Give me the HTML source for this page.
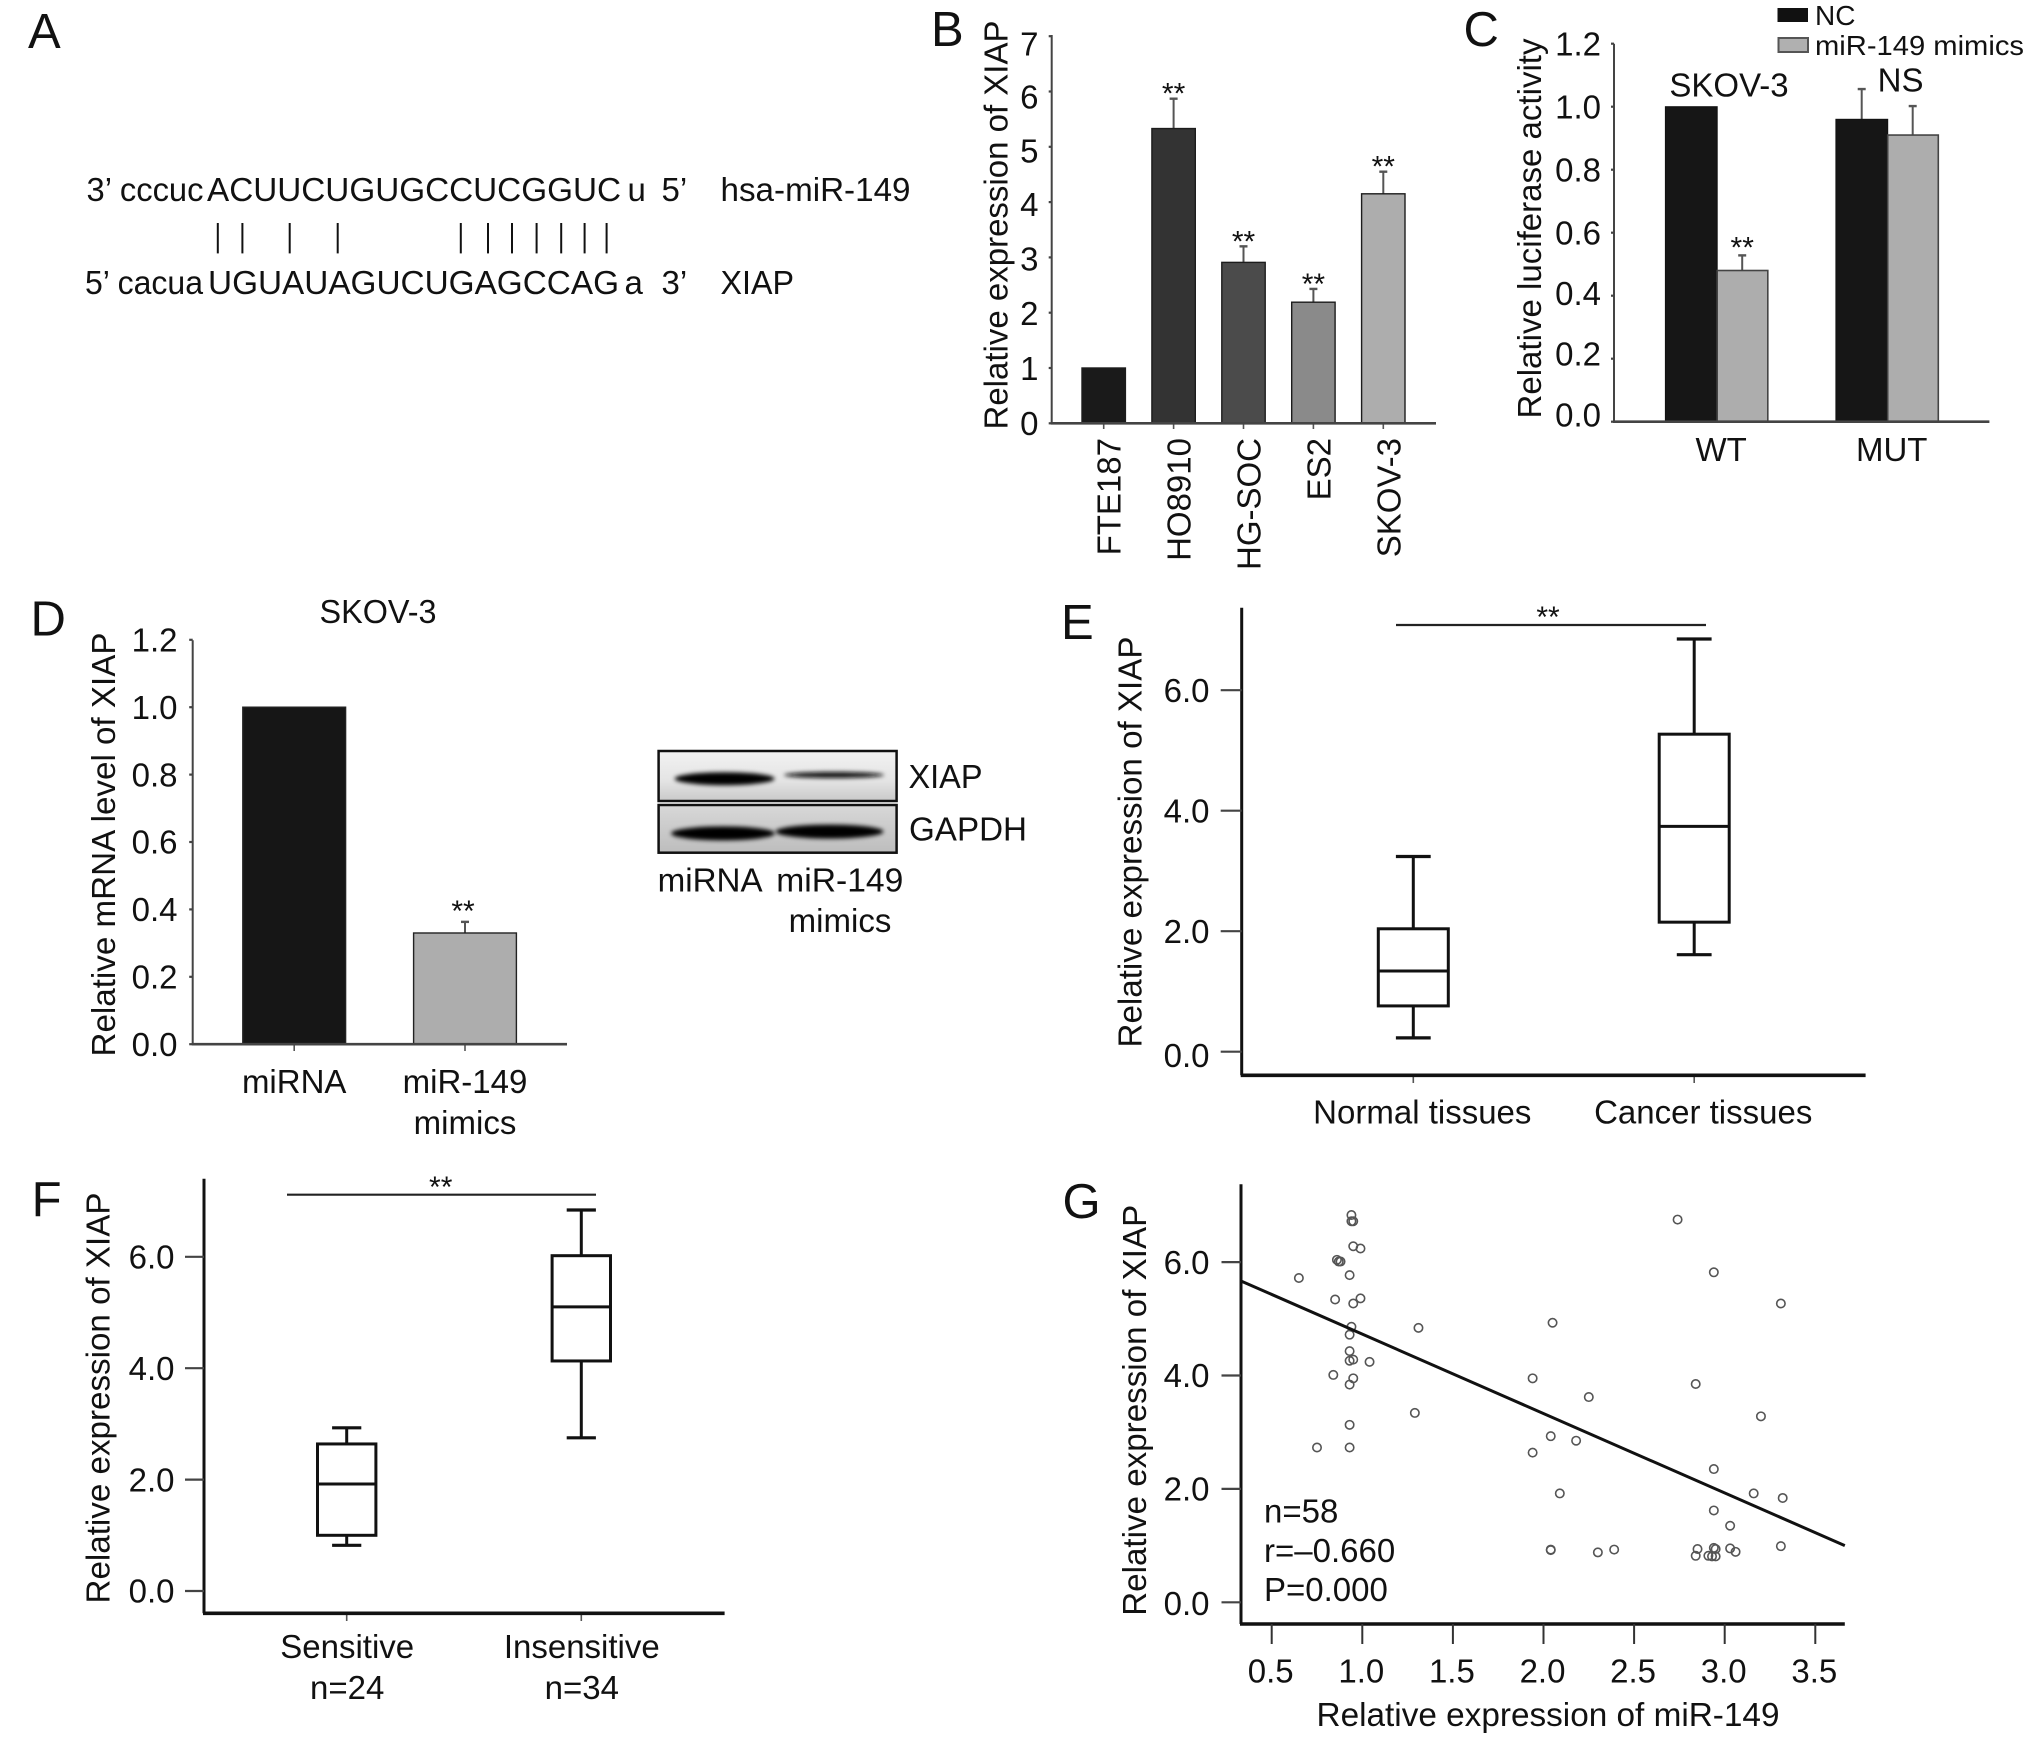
<!DOCTYPE html>
<html lang="en">
<head>
<meta charset="utf-8">
<title>miR-149 and XIAP multi-panel figure</title>
<style>
html,body{margin:0;padding:0;background:#fff;}
svg{display:block;}
text{font-family:"Liberation Sans",sans-serif;font-size:33px;fill:#111;}
.letter{font-size:49px;}
</style>
</head>
<body>
<svg id="fig" xmlns="http://www.w3.org/2000/svg" width="2032" height="1745" viewBox="0 0 2032 1745">
<defs>
<filter id="blot-blur" x="-20%" y="-80%" width="140%" height="260%"><feGaussianBlur stdDeviation="2.2"></feGaussianBlur></filter>
<linearGradient id="lane-light" x1="0" y1="0" x2="0" y2="1"><stop offset="0" stop-color="#f2f2f2"></stop><stop offset="0.6" stop-color="#e4e4e4"></stop><stop offset="1" stop-color="#c9c9c9"></stop></linearGradient>
<linearGradient id="lane-dark" x1="0" y1="0" x2="0" y2="1"><stop offset="0" stop-color="#d8d8d8"></stop><stop offset="1" stop-color="#bdbdbd"></stop></linearGradient>
</defs>
<rect x="0" y="0" width="2032" height="1745" fill="#fff"></rect>

<!-- Panel letters -->
<text class="letter" x="28" y="48">A</text>
<text class="letter" x="931" y="46">B</text>
<text class="letter" x="1463.5" y="46">C</text>
<text class="letter" x="30.5" y="635.5">D</text>
<text class="letter" x="1061" y="639">E</text>
<text class="letter" x="31.6" y="1216">F</text>
<text class="letter" x="1062.5" y="1218">G</text>

<!-- Panel A -->
<g id="panel-a">
<text x="86.5" y="201" textLength="117" lengthAdjust="spacingAndGlyphs">3’ cccuc</text>
<text x="207" y="201" textLength="414" lengthAdjust="spacingAndGlyphs">ACUUCUGUGCCUCGGUC</text>
<text x="627.5" y="201">u</text>
<text x="661.5" y="201">5’</text>
<text x="720.5" y="201" textLength="190" lengthAdjust="spacingAndGlyphs">hsa-miR-149</text>
<text x="85" y="294" textLength="118" lengthAdjust="spacingAndGlyphs">5’ cacua</text>
<text x="208" y="294" textLength="411" lengthAdjust="spacingAndGlyphs">UGUAUAGUCUGAGCCAG</text>
<text x="624.5" y="294">a</text>
<text x="661.5" y="294">3’</text>
<text x="720.5" y="294" textLength="73.5" lengthAdjust="spacingAndGlyphs">XIAP</text>
<g stroke="#111" stroke-width="2">
<line x1="217.8" y1="223" x2="217.8" y2="253.4"></line>
<line x1="242.4" y1="223" x2="242.4" y2="253.4"></line>
<line x1="289.7" y1="223" x2="289.7" y2="253.4"></line>
<line x1="337.7" y1="223" x2="337.7" y2="253.4"></line>
<line x1="460.8" y1="223" x2="460.8" y2="253.4"></line>
<line x1="488" y1="223" x2="488" y2="253.4"></line>
<line x1="512" y1="223" x2="512" y2="253.4"></line>
<line x1="536.6" y1="223" x2="536.6" y2="253.4"></line>
<line x1="561.2" y1="223" x2="561.2" y2="253.4"></line>
<line x1="584.6" y1="223" x2="584.6" y2="253.4"></line>
<line x1="606.6" y1="223" x2="606.6" y2="253.4"></line>
</g>
</g>

<!-- Panel B -->
<g id="panel-b">
<text transform="translate(1007.5,429.5) rotate(-90)" textLength="409" lengthAdjust="spacingAndGlyphs">Relative expression of XIAP</text>
</g>

<!-- Panel C -->
<g id="panel-c">
<text transform="translate(1541,418.5) rotate(-90)" textLength="380" lengthAdjust="spacingAndGlyphs">Relative luciferase activity</text>
<text x="1729" y="96.4" text-anchor="middle">SKOV-3</text>
<text x="1900.6" y="91.5" text-anchor="middle">NS</text>
<rect x="1777.5" y="8" width="30.5" height="14" fill="#111"></rect>
<text x="1815" y="25" style="font-size:28px">NC</text>
<rect x="1778.5" y="38" width="29.5" height="14" fill="#b0b0b0" stroke="#555" stroke-width="2"></rect>
<text x="1815" y="55" textLength="209" lengthAdjust="spacingAndGlyphs" style="font-size:28px">miR-149 mimics</text>
</g>

<!-- Panel D -->
<g id="panel-d">
<text x="378" y="623" text-anchor="middle" textLength="117" lengthAdjust="spacingAndGlyphs">SKOV-3</text>
<text transform="translate(115,1056.5) rotate(-90)" textLength="424" lengthAdjust="spacingAndGlyphs">Relative mRNA level of XIAP</text>
</g>

<!-- Western blot -->
<g id="blot">
<rect x="658.6" y="751" width="238" height="50" fill="url(#lane-light)" stroke="#111" stroke-width="2.5"></rect>
<rect x="658.6" y="805" width="238" height="47.7" fill="url(#lane-dark)" stroke="#111" stroke-width="2.5"></rect>
<ellipse cx="724.6" cy="778.7" rx="50" ry="6.5" fill="#050505" filter="url(#blot-blur)"></ellipse>
<ellipse cx="834" cy="775" rx="50" ry="3" fill="#111" filter="url(#blot-blur)"></ellipse>
<ellipse cx="723" cy="833.4" rx="52" ry="7" fill="#050505" filter="url(#blot-blur)"></ellipse>
<ellipse cx="829.5" cy="831.6" rx="54" ry="7" fill="#050505" filter="url(#blot-blur)"></ellipse>
<text x="908.5" y="788" textLength="74" lengthAdjust="spacingAndGlyphs">XIAP</text>
<text x="909" y="840.6" textLength="118" lengthAdjust="spacingAndGlyphs">GAPDH</text>
<text x="657.6" y="891.7" textLength="105" lengthAdjust="spacingAndGlyphs">miRNA</text>
<text x="776.3" y="891.7" textLength="127" lengthAdjust="spacingAndGlyphs">miR-149</text>
<text x="840" y="932" text-anchor="middle">mimics</text>
</g>

<!-- Panel E -->
<g id="panel-e">
<text transform="translate(1141.7,1047.5) rotate(-90)" textLength="411" lengthAdjust="spacingAndGlyphs">Relative expression of XIAP</text>
<line x1="1396" y1="625" x2="1706" y2="625" stroke="#222" stroke-width="2.2"></line>
<text x="1548" y="627" text-anchor="middle" style="font-size:30px">**</text>
</g>

<!-- Panel F -->
<g id="panel-f">
<text transform="translate(109.3,1603.5) rotate(-90)" textLength="411" lengthAdjust="spacingAndGlyphs">Relative expression of XIAP</text>
<line x1="287" y1="1194.7" x2="596" y2="1194.7" stroke="#222" stroke-width="2.2"></line>
<text x="440.7" y="1197" text-anchor="middle" style="font-size:30px">**</text>
</g>

<!-- Panel G -->
<g id="panel-g">
<text transform="translate(1146,1615.8) rotate(-90)" textLength="411" lengthAdjust="spacingAndGlyphs">Relative expression of XIAP</text>
<text x="1548" y="1726" text-anchor="middle" textLength="463" lengthAdjust="spacingAndGlyphs">Relative expression of miR-149</text>
<text x="1264" y="1522.7">n=58</text>
<text x="1264" y="1562">r=–0.660</text>
<text x="1264" y="1601">P=0.000</text>
</g>

<script>
// ---- Panel B data ----
var bCategories = ['FTE187', 'HO8910', 'HG-SOC', 'ES2', 'SKOV-3'];
var bValues = [1.0, 5.33, 2.91, 2.19, 4.15];
var bErrors = [0, 0.54, 0.29, 0.24, 0.40];
var bSignificant = ['', '**', '**', '**', '**'];
var bColors = ['#1a1a1a', '#333333', '#4b4b4b', '#8a8a8a', '#adadad'];
var bTickLabels = ['0', '1', '2', '3', '4', '5', '6', '7'];

// ---- Panel C data ----
var cCategories = ['WT', 'MUT'];
var cNc = [1.0, 0.96];
var cNcErrors = [0, 0.096];
var cMimics = [0.48, 0.91];
var cMimicsErrors = [0.048, 0.092];
var cMimicsSignificant = ['**', ''];
var cTickLabels = ['0.0', '0.2', '0.4', '0.6', '0.8', '1.0', '1.2'];

// ---- Panel D data ----
var dCategories = [['miRNA'], ['miR-149', 'mimics']];
var dValues = [1.0, 0.33];
var dErrors = [0, 0.033];
var dSignificant = ['', '**'];
var dTickLabels = ['0.0', '0.2', '0.4', '0.6', '0.8', '1.0', '1.2'];

// ---- Panel E data ----
var eCategories = [['Normal tissues'], ['Cancer tissues']];
var eLow = [0.23, 1.61];
var eQ1 = [0.76, 2.15];
var eMedian = [1.34, 3.74];
var eQ3 = [2.04, 5.27];
var eHigh = [3.24, 6.85];
var eTickLabels = ['0.0', '2.0', '4.0', '6.0'];

// ---- Panel F data ----
var fCategories = [['Sensitive', 'n=24'], ['Insensitive', 'n=34']];
var fLow = [0.82, 2.75];
var fQ1 = [1.0, 4.13];
var fMedian = [1.92, 5.1];
var fQ3 = [2.64, 6.02];
var fHigh = [2.93, 6.84];
var fTickLabels = ['0.0', '2.0', '4.0', '6.0'];

// ---- Panel G data ----
var gX = [0.94,0.94,0.95,0.95,0.99,0.86,0.87,0.88,0.93,0.65,0.85,0.99,0.95,0.94,0.93,1.31,0.93,0.93,0.95,1.04,0.84,0.95,0.93,1.29,0.93,0.75,0.93,1.94,2.25,2.04,2.18,1.94,2.09,2.05,2.04,2.04,2.30,2.39,2.74,2.94,3.31,2.84,3.20,2.94,3.16,3.32,2.94,3.03,3.31,2.85,2.84,2.94,2.95,3.03,3.06,2.91,2.93,2.95];
var gY = [6.83,6.72,6.72,6.28,6.24,6.04,6.01,6.01,5.77,5.72,5.34,5.36,5.27,4.86,4.72,4.84,4.43,4.26,4.28,4.24,4.01,3.95,3.84,3.34,3.13,2.73,2.73,3.95,3.62,2.93,2.85,2.64,1.92,4.93,0.93,0.92,0.88,0.93,6.75,5.82,5.27,3.85,3.28,2.35,1.92,1.84,1.62,1.35,0.99,0.94,0.82,0.96,0.94,0.95,0.89,0.82,0.81,0.81];
var gFitX = [0.332, 3.663];
var gFitY = [5.665, 1.0];
var gXTickLabels = ['0.5', '1.0', '1.5', '2.0', '2.5', '3.0', '3.5'];
var gYTickLabels = ['0.0', '2.0', '4.0', '6.0'];

var NS = 'http://www.w3.org/2000/svg';

function make(parent, tag, attrs, content) {
  var node = document.createElementNS(NS, tag);
  for (var key in attrs) { node.setAttribute(key, attrs[key]); }
  if (content !== undefined) { node.textContent = content; }
  parent.appendChild(node);
  return node;
}

function drawAxisLines(group, ax, yTop, yBottom, xRight, color, width) {
  var el = make(group, 'line', {x1: ax, y1: yTop, x2: ax, y2: yBottom, stroke: color, 'stroke-width': width});
  
  
  el = make(group, 'line', {x1: ax - 1, y1: yBottom, x2: xRight, y2: yBottom, stroke: color, 'stroke-width': width + 0.6});
  
  
}

function drawYTicks(group, labels, yScale, ax, tickLen, labelRight, color, labelShift) {
  labels.forEach(function (label) {
    var value = parseFloat(label);
    var y = yScale(value);
    var el = make(group, 'line', {x1: ax - tickLen, y1: y, x2: ax, y2: y, stroke: color, 'stroke-width': 2.2});
    
    
    el = make(group, 'text', {x: labelRight, y: y + 11.7 + (labelShift ? labelShift(value) : 0), 'text-anchor': 'end'}, label);
    
    
  });
}

function drawCategoryLabels(group, lines, cx, firstBaseline, lineGap) {
  lines.forEach(function (line, i) {
    var el = make(group, 'text', {x: cx, y: firstBaseline + i * lineGap, 'text-anchor': 'middle'}, line);
    
    
  });
}

function drawErrorBar(group, cx, yFrom, yTo, capHalf) {
  var el = make(group, 'line', {x1: cx, y1: yFrom, x2: cx, y2: yTo, stroke: '#555', 'stroke-width': 2});
  
  
  el = make(group, 'line', {x1: cx - capHalf, y1: yTo, x2: cx + capHalf, y2: yTo, stroke: '#555', 'stroke-width': 2.4});
  
  
}

function drawStars(group, cx, baseline, stars) {
  var el = make(group, 'text', {x: cx, y: baseline, 'text-anchor': 'middle', style: 'font-size:30px'}, stars);
  
  
}

function drawBox(group, cx, halfWidth, capHalf, yScale, low, q1, med, q3, high) {
  var el = make(group, 'line', {x1: cx, y1: yScale(high), x2: cx, y2: yScale(q3), stroke: '#111', 'stroke-width': 3});
  
  
  el = make(group, 'line', {x1: cx, y1: yScale(q1), x2: cx, y2: yScale(low), stroke: '#111', 'stroke-width': 3});
  
  
  el = make(group, 'line', {x1: cx - capHalf, y1: yScale(high), x2: cx + capHalf, y2: yScale(high), stroke: '#111', 'stroke-width': 3.2});
  
  
  el = make(group, 'line', {x1: cx - capHalf, y1: yScale(low), x2: cx + capHalf, y2: yScale(low), stroke: '#111', 'stroke-width': 3.2});
  
  
  el = make(group, 'rect', {x: cx - halfWidth, y: yScale(q3), width: halfWidth * 2, height: yScale(q1) - yScale(q3), fill: '#fff', stroke: '#111', 'stroke-width': 3});
  
  
  el = make(group, 'line', {x1: cx - halfWidth, y1: yScale(med), x2: cx + halfWidth, y2: yScale(med), stroke: '#111', 'stroke-width': 3});
  
  
}

// Panel B
(function () {
  var group = document.getElementById('panel-b');
  var yB = function (v) { return 423.3 - v * 55.3; };
  var xB = function (i) { return 1103.7 + i * 69.9; };
  bValues.forEach(function (v, i) {
    var cx = xB(i);
    if (bErrors[i] > 0) { drawErrorBar(group, cx, yB(v), yB(v + bErrors[i]), 4); }
    var el = make(group, 'rect', {x: cx - 21.7, y: yB(v), width: 43.4, height: 423.3 - yB(v), fill: bColors[i], stroke: '#1c1c1c', 'stroke-width': 1.4});
    
    
    if (bSignificant[i]) { drawStars(group, cx, yB(v + bErrors[i]) + 5, bSignificant[i]); }
    el = make(group, 'text', {transform: 'translate(' + (cx + 17) + ',438) rotate(-90)', 'text-anchor': 'end'}, bCategories[i]);
    
    
    el = make(group, 'line', {x1: cx, y1: 423.3, x2: cx, y2: 429, stroke: '#555', 'stroke-width': 1.6});
    
    
  });
  drawAxisLines(group, 1051.7, 35, 423.3, 1436, '#444', 2);
  drawYTicks(group, bTickLabels, yB, 1051.7, 3, 1038.5, '#444', function (v) { return 0.15 * v * v; });
})();

// Panel C
(function () {
  var group = document.getElementById('panel-c');
  var yC = function (v) { return 421.7 - v * 315; };
  var centerC = function (i) { return 1717.2 + i * 170.5; };
  cCategories.forEach(function (name, i) {
    var cx = centerC(i);
    if (cNcErrors[i] > 0) { drawErrorBar(group, cx - 26, yC(cNc[i]), yC(cNc[i] + cNcErrors[i]), 4); }
    if (cMimicsErrors[i] > 0) { drawErrorBar(group, cx + 25, yC(cMimics[i]), yC(cMimics[i] + cMimicsErrors[i]), 4); }
    var el = make(group, 'rect', {x: cx - 51.8, y: yC(cNc[i]), width: 51.8, height: 421.7 - yC(cNc[i]), fill: '#161616', stroke: '#111', 'stroke-width': 1});
    
    
    el = make(group, 'rect', {x: cx, y: yC(cMimics[i]), width: 50.6, height: 421.7 - yC(cMimics[i]), fill: '#adadad', stroke: '#444', 'stroke-width': 1.6});
    
    
    if (cMimicsSignificant[i]) { drawStars(group, cx + 25, yC(cMimics[i] + cMimicsErrors[i]) + 2, cMimicsSignificant[i]); }
    drawCategoryLabels(group, [name], cx + 4, 461, 0);
  });
  drawAxisLines(group, 1614, 43.7, 421.7, 1989.4, '#444', 2);
  drawYTicks(group, cTickLabels, yC, 1614, 3, 1601, '#444', function (v) { return v < 0.6 ? -7 * (1 - v / 0.6) : 0; });
})();

// Panel D
(function () {
  var group = document.getElementById('panel-d');
  var yD = function (v) { return 1044.2 - v * 337; };
  var xD = function (i) { return 294.2 + i * 170.8; };
  var colorsD = ['#161616', '#adadad'];
  dValues.forEach(function (v, i) {
    var cx = xD(i);
    if (dErrors[i] > 0) { drawErrorBar(group, cx, yD(v), yD(v + dErrors[i]), 4); }
    var el = make(group, 'rect', {x: cx - 51.4, y: yD(v), width: 102.8, height: 1044.2 - yD(v), fill: colorsD[i], stroke: '#222', 'stroke-width': 1.4});
    
    
    if (dSignificant[i]) { drawStars(group, cx - 2, yD(v + dErrors[i]) - 1, dSignificant[i]); }
    el = make(group, 'line', {x1: cx, y1: 1044, x2: cx, y2: 1051, stroke: '#555', 'stroke-width': 1.6});
    
    
    drawCategoryLabels(group, dCategories[i], cx, 1093, 41);
  });
  drawAxisLines(group, 192.7, 640.3, 1044.2, 567, '#444', 2);
  drawYTicks(group, dTickLabels, yD, 192.7, 3.5, 177.5, '#444');
})();

// Panel E
(function () {
  var group = document.getElementById('panel-e');
  var yE = function (v) { return 1051.7 - v * 60.25; };
  var xE = function (i) { return 1413.3 + i * 280.9; };
  eMedian.forEach(function (m, i) {
    drawBox(group, xE(i), 35, 17.4, yE, eLow[i], eQ1[i], m, eQ3[i], eHigh[i]);
    var el = make(group, 'line', {x1: xE(i), y1: 1075, x2: xE(i), y2: 1083, stroke: '#555', 'stroke-width': 1.6});
    
    
    drawCategoryLabels(group, eCategories[i], xE(i) + 9, 1123.6, 41);
  });
  drawAxisLines(group, 1241.7, 607.7, 1075.3, 1865.6, '#111', 3);
  drawYTicks(group, eTickLabels, yE, 1241.7, 21, 1209.5, '#444', function (v) { return v === 0 ? 3.7 : 0; });
})();

// Panel F
(function () {
  var group = document.getElementById('panel-f');
  var yF = function (v) { return 1591 - v * 55.7; };
  var xF = function (i) { return 346.7 + i * 234.6; };
  fMedian.forEach(function (m, i) {
    drawBox(group, xF(i), 29.2, 14.6, yF, fLow[i], fQ1[i], m, fQ3[i], fHigh[i]);
    var el = make(group, 'line', {x1: xF(i), y1: 1613, x2: xF(i), y2: 1621, stroke: '#555', 'stroke-width': 1.6});
    
    
    drawCategoryLabels(group, fCategories[i], xF(i) + 0.5, 1658, 41);
  });
  drawAxisLines(group, 204, 1178.7, 1613.3, 724.6, '#111', 3);
  drawYTicks(group, fTickLabels, yF, 204, 19, 174.5, '#444');
})();

// Panel G
(function () {
  var group = document.getElementById('panel-g');
  var yG = function (v) { return 1602.3 - v * 56.7; };
  var xG = function (v) { return 1271.7 + (v - 0.5) * 181.2; };
  gX.forEach(function (x, i) {
    var el = make(group, 'circle', {cx: xG(x), cy: yG(gY[i]), r: 4.2, fill: 'none', stroke: '#555', 'stroke-width': 1.6});
    
    
  });
  var fit = make(group, 'line', {x1: xG(gFitX[0]), y1: yG(gFitY[0]), x2: xG(gFitX[1]), y2: yG(gFitY[1]), stroke: '#111', 'stroke-width': 3});
  
  
  drawAxisLines(group, 1241, 1184.3, 1624, 1844.8, '#111', 3);
  drawYTicks(group, gYTickLabels, yG, 1241, 19.5, 1209.5, '#444', function (v) { return v === 0 ? 1 : 0; });
  gXTickLabels.forEach(function (label) {
    var x = xG(parseFloat(label));
    var el = make(group, 'line', {x1: x, y1: 1624, x2: x, y2: 1644, stroke: '#333', 'stroke-width': 2});
    
    
    el = make(group, 'text', {x: x - 1, y: 1682.3, 'text-anchor': 'middle'}, label);
    
    
  });
})();
</script>
</svg>
</body>
</html>
